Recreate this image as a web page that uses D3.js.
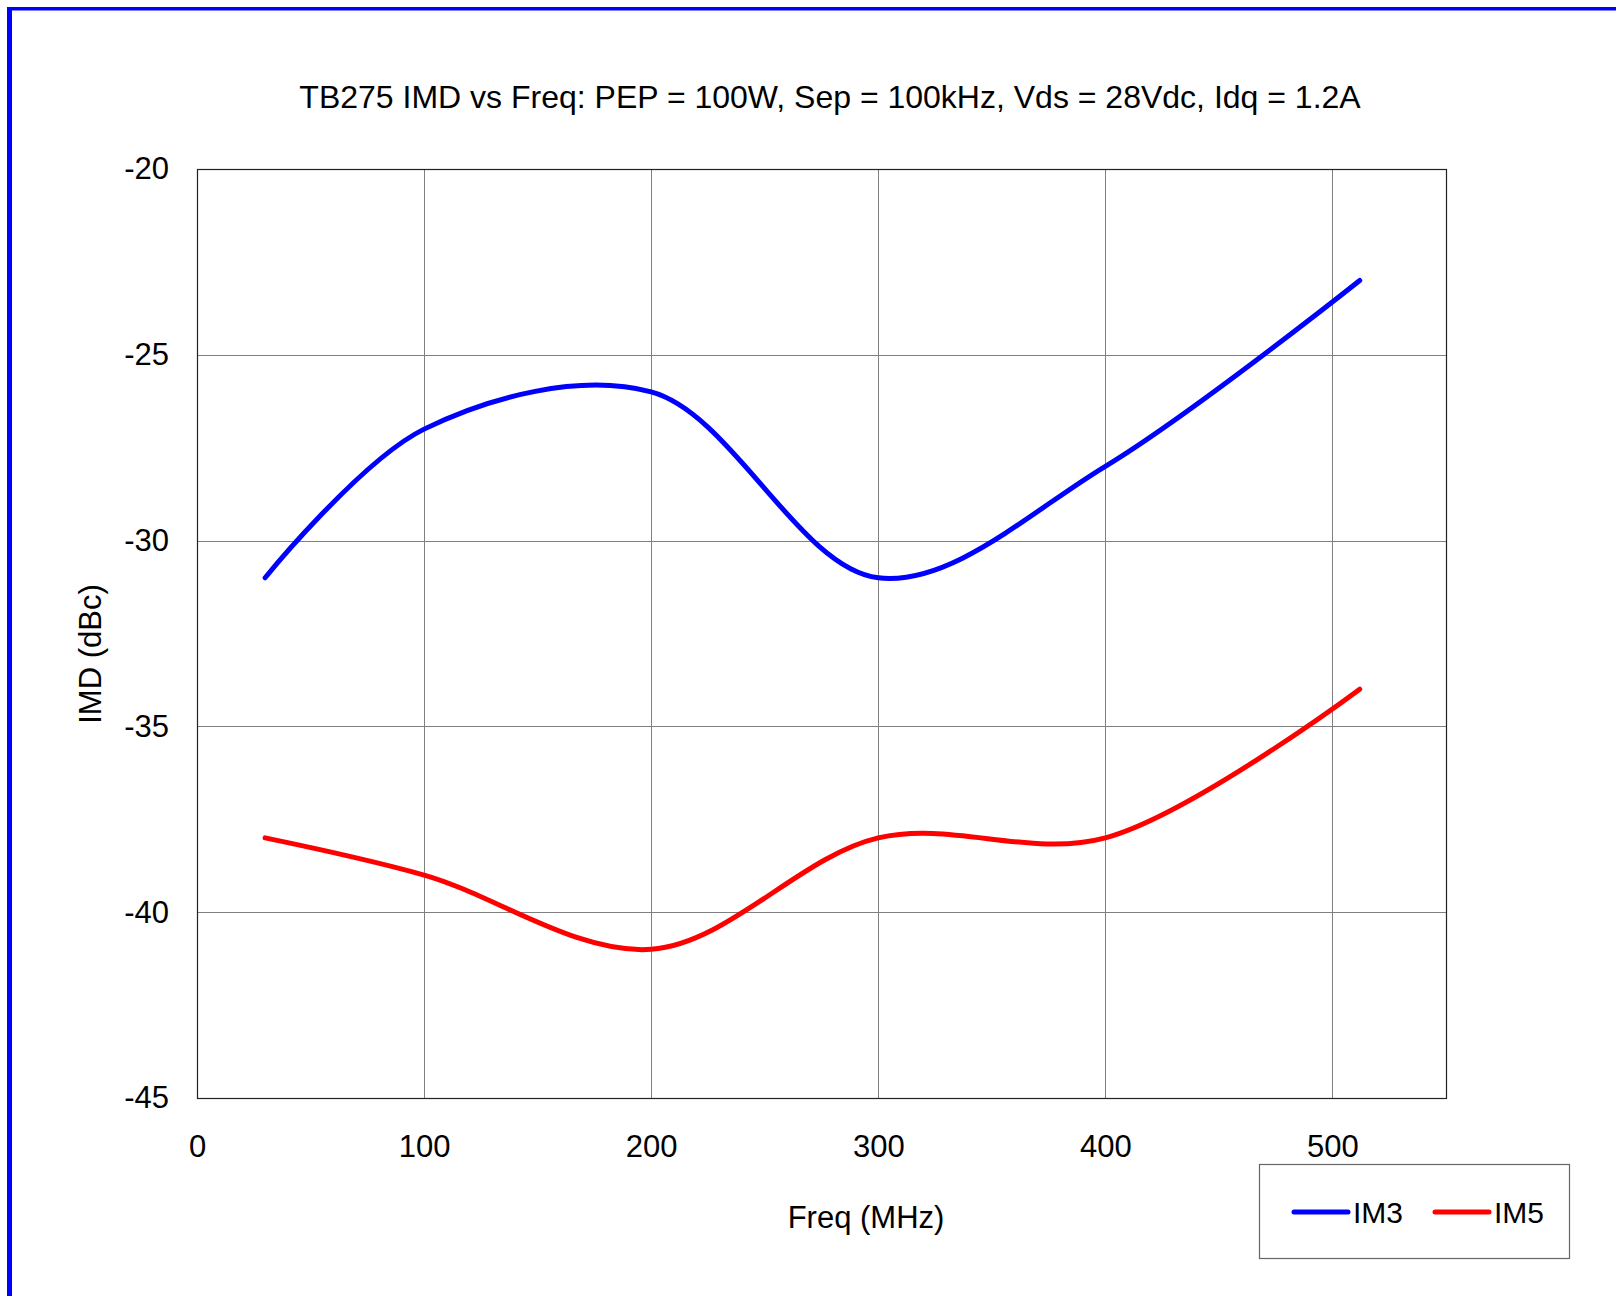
<!DOCTYPE html>
<html>
<head>
<meta charset="utf-8">
<script src="https://cdn.jsdelivr.net/npm/d3@7"></script>
<style>
  body { margin: 0; background: #fff; }
  text { font-family: "Liberation Sans", Arial, sans-serif; fill: #000; }
</style>
</head>
<body>
<div id="chart"></div>
<script>
// data
const freq = [30, 100, 200, 300, 400, 512];
const im3 = [-31, -27, -26, -31, -28, -23];
const im5 = [-38, -39, -41, -38, -38, -34];
const seriesNames = ["IM3", "IM5"];
const seriesColors = ["#0000ff", "#ff0000"];
const xTicks = [0, 100, 200, 300, 400, 500];
const yTicks = [-20, -25, -30, -35, -40, -45];

const W = 1616, H = 1296;
const margin = {top: 169, right: 170, bottom: 198, left: 197};

const svg = d3.select("#chart").append("svg")
    .attr("width", W)
    .attr("height", H);

// blue frame (only left + top visible)
svg.append("rect").attr("x", 7).attr("y", 7).attr("width", 5).attr("height", H).attr("fill", "#0000ff");
svg.append("rect").attr("x", 7).attr("y", 7).attr("width", W).attr("height", 3.5).attr("fill", "#0000ff");

const x = d3.scaleLinear().domain([0, 550]).range([margin.left, W - margin.right]);
const y = d3.scaleLinear().domain([-45, -20]).range([H - margin.bottom, margin.top]);

// grid
svg.append("g")
  .selectAll("line.vg")
  .data(xTicks.slice(1))
  .enter().append("line")
    .attr("x1", d => Math.round(x(d)) + 0.5).attr("x2", d => Math.round(x(d)) + 0.5)
    .attr("y1", y(-20)).attr("y2", y(-45))
    .attr("stroke", "#808080").attr("stroke-width", 1);

svg.append("g")
  .selectAll("line.hg")
  .data(yTicks.slice(1, -1))
  .enter().append("line")
    .attr("y1", d => Math.round(y(d)) + 0.5).attr("y2", d => Math.round(y(d)) + 0.5)
    .attr("x1", x(0)).attr("x2", x(550))
    .attr("stroke", "#808080").attr("stroke-width", 1);

// plot frame
svg.append("rect")
  .attr("x", x(0) + 0.5).attr("y", y(-20) + 0.5)
  .attr("width", x(550) - x(0)).attr("height", y(-45) - y(-20))
  .attr("fill", "none").attr("stroke", "#222").attr("stroke-width", 1.2);

// axes (labels only, like the original)
const xAxis = svg.append("g")
  .attr("transform", "translate(0," + y(-45) + ")")
  .call(d3.axisBottom(x).tickValues(xTicks).tickSize(0).tickPadding(37).tickFormat(d => String(d)));
xAxis.select(".domain").remove();
xAxis.selectAll("text").style("font-size", "31px").attr("font-family", null);

const yAxis = svg.append("g")
  .attr("transform", "translate(" + x(0) + ",0)")
  .call(d3.axisLeft(y).tickValues(yTicks).tickSize(0).tickPadding(28).tickFormat(d => String(d)));
yAxis.select(".domain").remove();
yAxis.selectAll("text").style("font-size", "31px").attr("font-family", null);

// title
svg.append("text")
  .attr("x", 830).attr("y", 108)
  .attr("text-anchor", "middle")
  .style("font-size", "32px")
  .text("TB275 IMD vs Freq: PEP = 100W, Sep = 100kHz, Vds = 28Vdc, Idq = 1.2A");

svg.append("text")
  .attr("x", 866).attr("y", 1228)
  .attr("text-anchor", "middle")
  .style("font-size", "31px")
  .text("Freq (MHz)");

svg.append("text")
  .attr("transform", "translate(101,654) rotate(-90)")
  .attr("text-anchor", "middle")
  .style("font-size", "31px")
  .text("IMD (dBc)");

// curves
const line = d3.line()
  .x(d => x(d[0]))
  .y(d => y(d[1]))
  .curve(d3.curveCatmullRom.alpha(0.5));

[im3, im5].forEach((s, i) => {
  svg.append("path")
    .datum(freq.map((f, j) => [f, s[j]]))
    .attr("d", line)
    .attr("fill", "none")
    .attr("stroke", seriesColors[i])
    .attr("stroke-width", 5)
    .attr("stroke-linecap", "round")
    .attr("stroke-linejoin", "round");
});

// legend
const lg = svg.append("g");
lg.append("rect")
  .attr("x", 1259.5).attr("y", 1164.5).attr("width", 310).attr("height", 94)
  .attr("fill", "#fff").attr("stroke", "#666").attr("stroke-width", 1.2);
seriesNames.forEach((n, i) => {
  const lx = 1294 + i * 141;
  lg.append("line")
    .attr("x1", lx).attr("x2", lx + 54).attr("y1", 1212).attr("y2", 1212)
    .attr("stroke", seriesColors[i]).attr("stroke-width", 5).attr("stroke-linecap", "round");
  lg.append("text")
    .attr("x", lx + 59).attr("y", 1223)
    .style("font-size", "30px")
    .text(n);
});
</script>
</body>
</html>
